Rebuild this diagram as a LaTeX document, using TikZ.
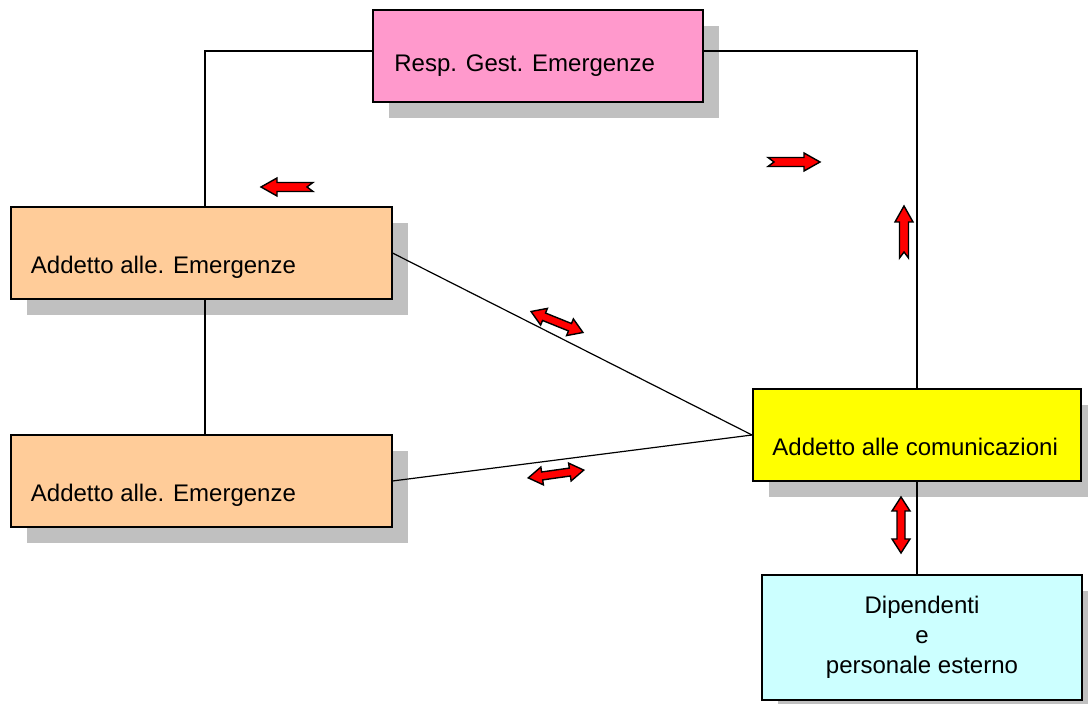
\documentclass[tikz,border=0pt]{standalone}
\usepackage{fontspec}
\setmainfont{Liberation Sans}
\usetikzlibrary{positioning,shadows}
\definecolor{respPink}{HTML}{FF99CC}
\definecolor{addOrange}{HTML}{FFCC99}
\definecolor{comYellow}{HTML}{FFFF00}
\definecolor{dipCyan}{HTML}{CCFFFF}
\definecolor{shadowGray}{HTML}{C0C0C0}

\begin{document}
\begin{tikzpicture}[
  x=0.5pt,y=-0.5pt,
  box/.style={draw,line width=1pt,inner sep=0pt,
              drop shadow={shadow xshift=8pt,shadow yshift=-8pt,
                           fill=shadowGray,opacity=1}},
  lbl/.style={anchor=base west,inner sep=0pt,font=\fontsize{12}{15}\selectfont},
  conn/.style={line width=0.6pt},
  blk/.style={draw,fill=red,line width=0.7pt,line join=miter},
  notcharr/.pic={\path[blk] (-26,-4.5) -- (10,-4.5) -- (10,-9) -- (26,0)
                 -- (10,9) -- (10,4.5) -- (-26,4.5) -- (-20,0) -- cycle;},
  dblarr/.pic={\path[blk] (-28,0) -- (-14,-9) -- (-14,-4) -- (14,-4) -- (14,-9)
               -- (28,0) -- (14,9) -- (14,4) -- (-14,4) -- (-14,9) -- cycle;}
]
\useasboundingbox (0,0) rectangle (1088,704);

\node[box,fill=respPink,minimum width=165pt,minimum height=46pt] (resp) at (538,56) {};
\node[box,fill=addOrange,minimum width=190.5pt,minimum height=46pt] (add1) at (201,253) {};
\node[box,fill=addOrange,minimum width=190.5pt,minimum height=46pt,below=67pt of add1] (add2) {};
\node[box,fill=comYellow,minimum width=164pt,minimum height=46pt] (comm) at (917,435) {};
\node[box,fill=dipCyan,minimum width=160pt,minimum height=62.5pt,align=center,
      font=\fontsize{12}{15}\selectfont,below=46pt of comm,xshift=2.5pt] (dip)
     {Dipendenti\\e\\personale esterno};

\node[lbl] (resp-t) at ([xshift=11pt,yshift=-8pt]resp.west) {Resp. Gest. Emergenze};
\node[lbl] (add1-t) at ([xshift=10.5pt,yshift=-10.5pt]add1.west) {Addetto alle. Emergenze};
\node[lbl] (add2-t) at ([xshift=10.5pt,yshift=-10.5pt]add2.west) {Addetto alle. Emergenze};
\node[lbl] (comm-t) at ([xshift=10pt,yshift=-10.5pt]comm.west) {Addetto alle comunicazioni};

\draw[conn] ([yshift=2.5pt]resp.west) -| ([xshift=2pt]add1.north);
\draw[conn] ([yshift=2.5pt]resp.east) -| (comm.north);
\draw[conn] ([xshift=2pt]add1.south) -- ([xshift=2pt]add2.north);
\draw[conn] (add1.east) -- (comm.west);
\draw[conn] (add2.east) -- (comm.west);
\draw[conn] (comm.south) -- (comm.south |- dip.north);

\pic[rotate=180] at (287,187) {notcharr};
\pic at (794,162) {notcharr};
\pic[rotate=90] at (904,232) {notcharr};
\pic[rotate=-22] at (557,322) {dblarr};
\pic[rotate=8] at (556,474) {dblarr};
\pic[rotate=90] at (901,525) {dblarr};
\end{tikzpicture}
\end{document}
